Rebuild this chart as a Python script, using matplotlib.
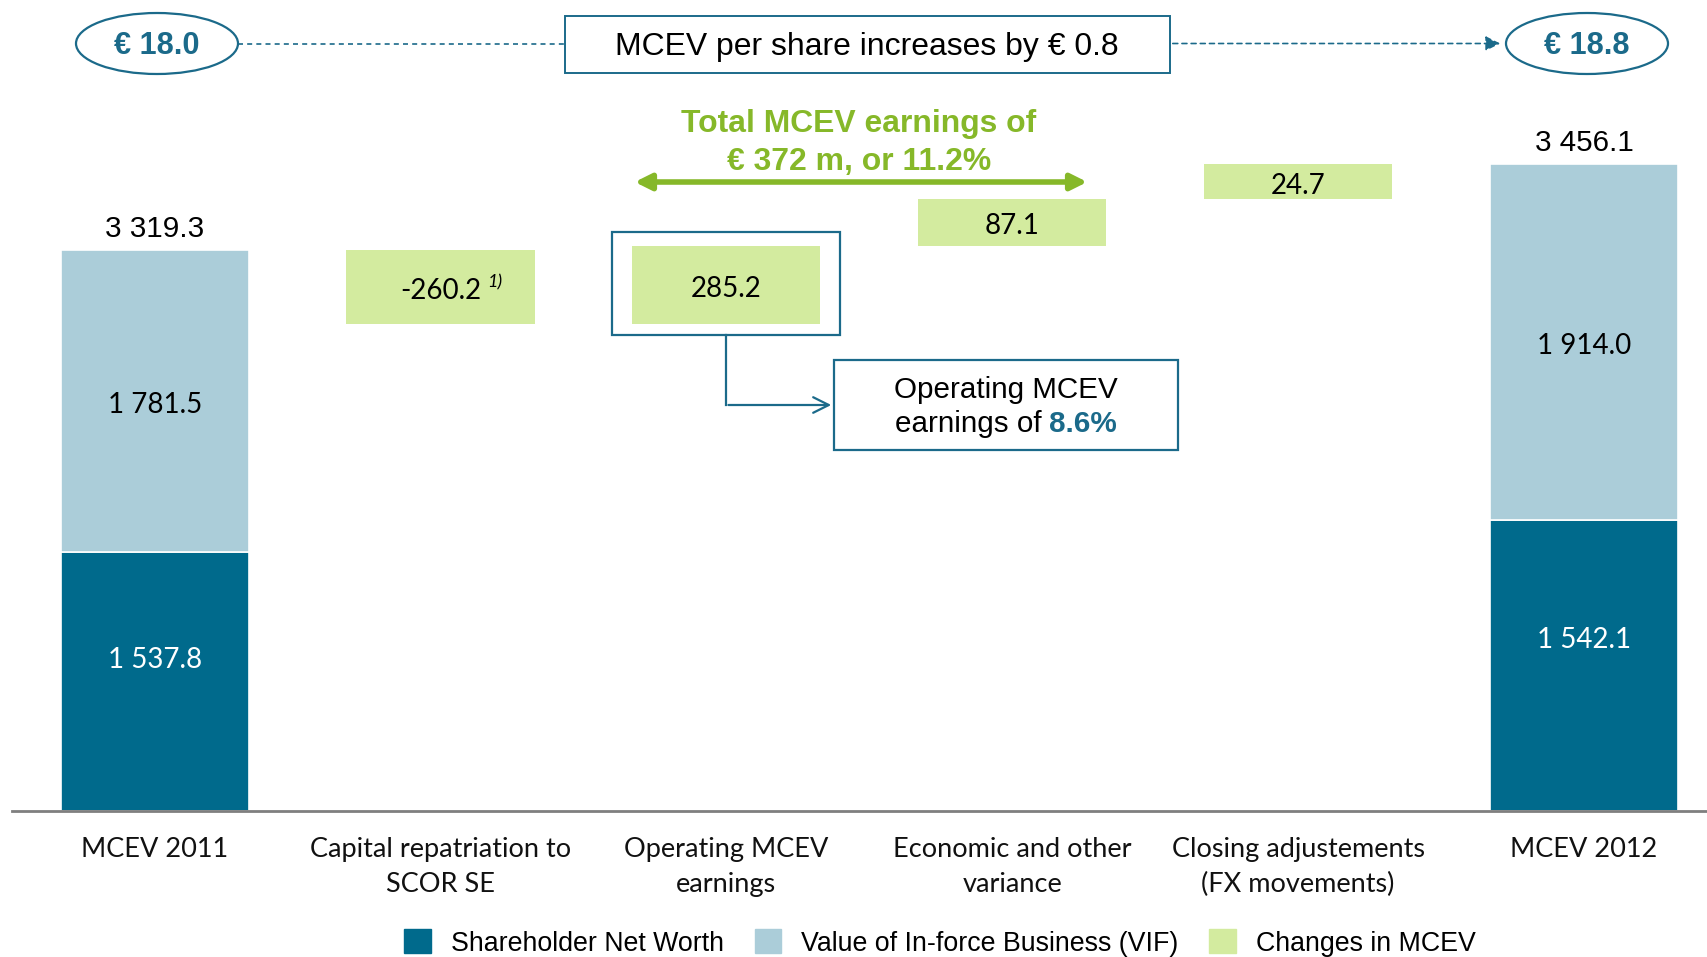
import numpy as np
import matplotlib
matplotlib.use("Agg")
import matplotlib.pyplot as plt
from matplotlib import font_manager as fm
from matplotlib.patches import Ellipse, Rectangle, FancyArrowPatch, Patch
from matplotlib.lines import Line2D

# data
categories = ["MCEV 2011", "Capital repatriation to\nSCOR SE", "Operating MCEV\nearnings",
              "Economic and other\nvariance", "Closing adjustements\n(FX movements)", "MCEV 2012"]
snw = [1537.8, 1542.1]          # shareholder net worth, 2011 / 2012
vif = [1781.5, 1914.0]          # value of in-force business, 2011 / 2012
changes = [-260.2, 285.2, 87.1, 24.7]
per_share = [18.0, 18.8]
legend_labels = ["Shareholder Net Worth", "Value of In-force Business (VIF)", "Changes in MCEV"]

DARK = "#006A8C"
LIGHT = "#ABCDD9"
GREEN = "#D3EB9F"
TEAL = "#1B6A8A"
LIME = "#86B829"

names = {f.name for f in fm.fontManager.ttflist}
NARROW = "Liberation Sans Narrow" in names
ARIAL = "Liberation Sans Narrow" if NARROW else "Liberation Sans"
k = 1.0 if NARROW else 0.82
CAL = "Lato"

W, H = 1707, 957


def fxy(x, y):
    # pixel from top-left -> figure fraction
    return (x / W, 1 - y / H)


def fmt(v):
    return f"{v:,.1f}".replace(",", " ")


totals = [snw[0] + vif[0], snw[1] + vif[1]]
levels = totals[0] + np.cumsum(changes)
prev = np.concatenate([[totals[0]], levels[:-1]])

# stylised (non linear) vertical scale of the original slide
knot_vals = [0, snw[0], snw[1], levels[0], totals[0], levels[1], levels[2], levels[3], 5000]
knot_px = [0, 259, 291, 487, 561, 565, 612, 647, 811]


def fwd(v):
    return np.interp(v, knot_vals, knot_px)


def inv(p):
    return np.interp(p, knot_px, knot_vals)


fig = plt.figure(figsize=(W / 100, H / 100), dpi=100)
ax = fig.add_axes([12 / W, (H - 811) / H, 1 - 12 / W, 811 / H])
ax.set_yscale("function", functions=(fwd, inv))
ax.set_ylim(0, 5000)
ax.set_xlim(-0.499, 5.43)

x = np.arange(len(categories))
bw = 0.658
ends = [0, 5]

ax.bar(ends, snw, width=bw, color=DARK, edgecolor="white", linewidth=1.2)
ax.bar(ends, vif, bottom=snw, width=bw, color=LIGHT, edgecolor="white", linewidth=1.2)

bottoms = np.minimum(prev, levels)
heights = np.abs(changes)
ax.bar(x[1:5], heights, bottom=bottoms, width=bw, color=GREEN, linewidth=0)


def at(b, t, f=0.5):
    return inv(fwd(b) + f * (fwd(t) - fwd(b)))


def label(xi, y, s, color="black"):
    ax.annotate(s, (xi, y), xytext=(0, -4), textcoords="offset pixels", ha="center",
                va="center", color=color, fontsize=20, family=CAL)


for i, xi in enumerate(ends):
    label(xi, at(0, snw[i], 0.6), fmt(snw[i]), "white")
    label(xi, at(snw[i], totals[i]), fmt(vif[i]))
    ax.annotate(fmt(totals[i]), (xi, totals[i]), xytext=(0, 13), textcoords="offset pixels",
                ha="center", va="baseline", fontsize=26 * k, family=ARIAL)

for j, xi in enumerate(x[1:5]):
    b, t = bottoms[j], bottoms[j] + heights[j]
    label(xi, at(b, t), fmt(changes[j]))
ax.annotate("1)", (1, at(bottoms[0], bottoms[0] + heights[0])), xytext=(47, 5),
            textcoords="offset pixels", ha="left", va="center", fontsize=13,
            style="italic", family=CAL)

for s in ["top", "left", "right"]:
    ax.spines[s].set_visible(False)
ax.spines["bottom"].set_color("#7F7F7F")
ax.spines["bottom"].set_linewidth(2)
ax.set_yticks([])
ax.set_xticks(x)
ax.set_xticklabels(categories, fontsize=19.5, family=CAL, linespacing=1.48, color="#111111")
ax.tick_params(axis="x", length=0, pad=19)

# --- header: per share values
ellipse_kw = dict(facecolor="white", edgecolor=TEAL, linewidth=1.6, transform=fig.transFigure)
for cx, v in [(157, per_share[0]), (1587, per_share[1])]:
    fig.add_artist(Ellipse(fxy(cx, 43.5), 162 / W, 61 / H, **ellipse_kw))
    fig.text(*fxy(cx, 46), f"€ {v:.1f}", ha="center", va="center", color=TEAL,
             fontsize=27 * k, fontweight="bold", family=ARIAL)

fig.add_artist(Rectangle(fxy(565, 73), 605 / W, 57 / H, facecolor="white",
                         edgecolor=TEAL, linewidth=1.4, transform=fig.transFigure))
fig.text(*fxy(867, 47), f"MCEV per share increases by € {per_share[1] - per_share[0]:.1f}",
         ha="center", va="center", fontsize=28 * k, family=ARIAL)
fig.add_artist(Line2D([238 / W, 565 / W], [fxy(0, 43.5)[1]] * 2, color=TEAL, lw=1.2,
                      ls=(0, (3, 2.5)), transform=fig.transFigure))
fig.add_artist(FancyArrowPatch(fxy(1170, 43.5), fxy(1503, 43.5), arrowstyle="-|>",
                               mutation_scale=22, color=TEAL, lw=1.2, linestyle=(0, (3, 2.5)),
                               transform=fig.transFigure))

# --- total earnings
earn = changes[1] + changes[2]
fig.text(*fxy(859, 143), f"Total MCEV earnings of\n€ {earn:.0f} m, or {earn / totals[0] * 100:.1f}%",
         ha="center", va="center", color=LIME, fontsize=28 * k, fontweight="bold",
         family=ARIAL, linespacing=1.33)
fig.add_artist(FancyArrowPatch(fxy(632, 182), fxy(1090, 182), arrowstyle="<|-|>",
                               mutation_scale=24, color=LIME, lw=4, transform=fig.transFigure))

# --- frame round operating earnings and call-out
d0 = ax.transData.transform((2 - bw / 2, bottoms[1]))
d1 = ax.transData.transform((2 + bw / 2, bottoms[1] + heights[1]))
fl, fr = d0[0] - 20, d1[0] + 20
fb, ft = H - d0[1] + 11, H - d1[1] - 14
fig.add_artist(Rectangle(fxy(fl, fb), (fr - fl) / W, (fb - ft) / H, facecolor="none",
                         edgecolor=TEAL, linewidth=1.6, transform=fig.transFigure))
cxm = (fl + fr) / 2
fig.add_artist(Line2D([cxm / W, cxm / W], [fxy(0, fb)[1], fxy(0, 405)[1]], color=TEAL, lw=1.6,
                      transform=fig.transFigure))
fig.add_artist(FancyArrowPatch(fxy(cxm - 0.8, 405), fxy(834, 405), arrowstyle="->",
                               mutation_scale=28, color=TEAL, lw=1.6, transform=fig.transFigure))
fig.add_artist(Rectangle(fxy(834, 450), 344 / W, 90 / H, facecolor="white",
                         edgecolor=TEAL, linewidth=1.6, transform=fig.transFigure))
fig.text(*fxy(1006, 390), "Operating MCEV", ha="center", va="center",
         fontsize=26 * k, family=ARIAL)
t1 = fig.text(0, 0, "earnings of", ha="left", va="center", fontsize=26 * k, family=ARIAL)
t2 = fig.text(0, 0, f"{changes[1] / totals[0] * 100:.1f}%", ha="left", va="center",
              fontsize=26 * k, family=ARIAL, fontweight="bold", color=TEAL)
r = fig.canvas.get_renderer()
w1 = t1.get_window_extent(r).width
w2 = t2.get_window_extent(r).width
gap = 0.27 * 26 * k * 100 / 72
x0 = 1006 - (w1 + gap + w2) / 2
t1.set_position(fxy(x0, 424))
t2.set_position(fxy(x0 + w1 + gap, 424))

# --- legend
handles = [Patch(color=c) for c in [DARK, LIGHT, GREEN]]
fig.legend(handles, legend_labels, loc="center", bbox_to_anchor=fxy(940, 943), ncol=3,
           frameon=False, prop={"family": ARIAL, "size": 23.5 * k}, handlelength=1.0,
           handleheight=1.0, handletextpad=0.75, columnspacing=1.15)

fig.savefig("out.png", dpi=100)
